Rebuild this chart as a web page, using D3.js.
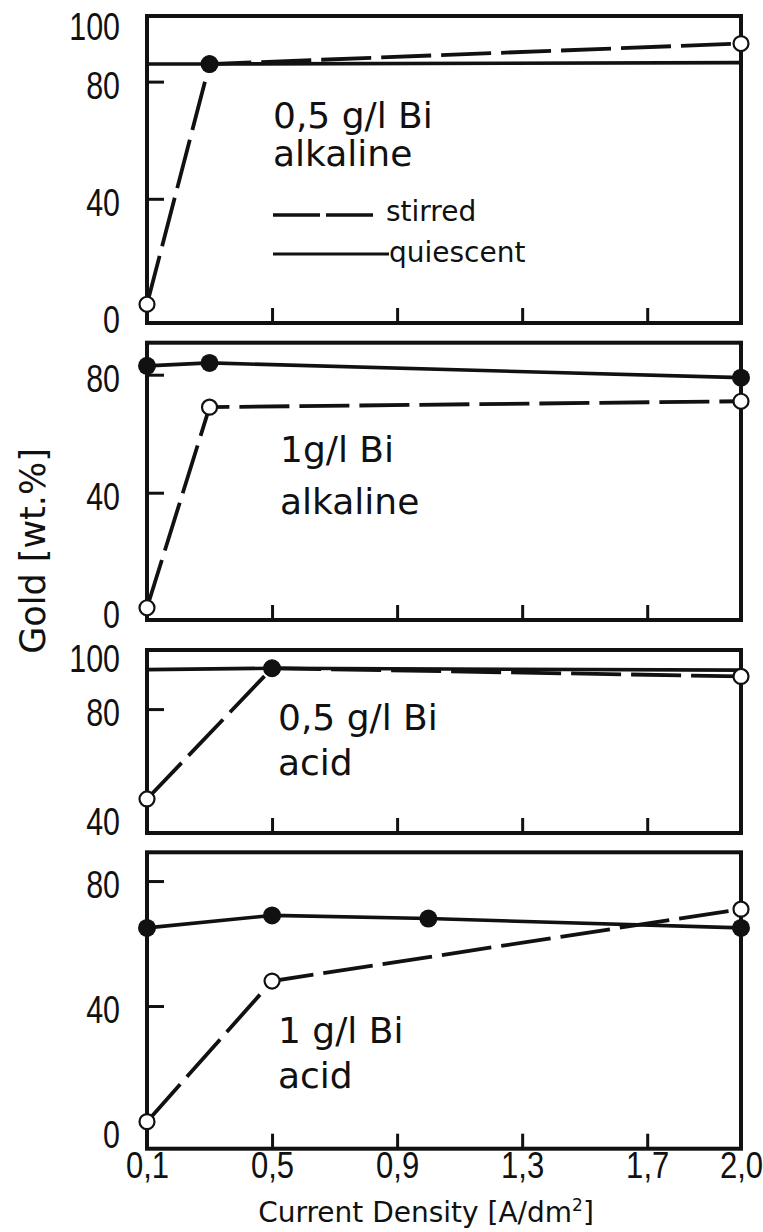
<!DOCTYPE html>
<html>
<head>
<meta charset="utf-8">
<script src="https://cdn.jsdelivr.net/npm/d3@7"></script>
<style>
  html, body { margin: 0; padding: 0; background: #ffffff; }
  svg { display: block; }
  text { fill: #111; }
</style>
</head>
<body>
<svg id="chart" width="763" height="1232"></svg>
<script>
// Current density (A/dm²): tick positions and their printed labels
const xTickValues = [0.1, 0.5, 0.9, 1.3, 1.7, 2.0];
const xTickLabels = ["0,1", "0,5", "0,9", "1,3", "1,7", "2,0"];
const xInnerTicks = [0.5, 0.9, 1.3, 1.7];

// 0,5 g/l Bi, alkaline bath — gold content (wt.%)
const alk05Density = [0.1, 0.3, 2.0];
const alk05Stirred = [4, 86, 93];
const alk05Quiescent = [86, 86, 86.5];
const alk05QuiescentMarked = [0.3];

// 1 g/l Bi, alkaline bath
const alk1Density = [0.1, 0.3, 2.0];
const alk1Stirred = [1, 69, 71];
const alk1Quiescent = [83, 84, 79];
const alk1QuiescentMarked = [0.1, 0.3, 2.0];

// 0,5 g/l Bi, acid bath
const acid05Density = [0.1, 0.5, 2.0];
const acid05Stirred = [47, 95, 92];
const acid05Quiescent = [94.5, 95, 94.3];
const acid05QuiescentMarked = [0.5];

// 1 g/l Bi, acid bath
const acid1StirredDensity = [0.1, 0.5, 2.0];
const acid1Stirred = [3, 48, 71];
const acid1QuiescentDensity = [0.1, 0.5, 1.0, 2.0];
const acid1Quiescent = [65, 69, 68, 65];
const acid1QuiescentMarked = [0.1, 0.5, 1.0, 2.0];

// Panel captions and y-axis ticks
const panelTitles = [
  ["0,5 g/l Bi", "alkaline"],
  ["1g/l Bi", "alkaline"],
  ["0,5 g/l Bi", "acid"],
  ["1 g/l Bi", "acid"]
];
const yTickLabelValues = [[100, 80, 40, 0], [80, 40, 0], [100, 80, 40], [80, 40, 0]];
const yTickMarkValues = [[80, 40], [80, 40], [80], [80, 40]];

const legendLabels = ["stirred", "quiescent"];
const yTitle = "Gold [wt.%]";

// ---------- layout ----------
const W = 763, H = 1232;
const plotLeft = 147, plotRight = 741;
const panelLayout = [
  { top: 16,    bottom: 323,    vTop: 102.4, vBottom: -2.4, titleX: 273, titleY: [128, 166] },
  { top: 342.7, bottom: 620,    vTop: 90.85, vBottom: -3.15, titleX: 280, titleY: [462, 514] },
  { top: 650,   bottom: 833,    vTop: 101.7, vBottom: 34.5, titleX: 278, titleY: [730, 775] },
  { top: 852.3, bottom: 1148.7, vTop: 89.2,  vBottom: -5.66, titleX: 278, titleY: [1043, 1088] }
];

const zip = (xs, ys) => xs.map((d, i) => [d, ys[i]]);
const panelSeries = [
  { stirred: zip(alk05Density, alk05Stirred), quiescent: zip(alk05Density, alk05Quiescent), marked: alk05QuiescentMarked },
  { stirred: zip(alk1Density, alk1Stirred), quiescent: zip(alk1Density, alk1Quiescent), marked: alk1QuiescentMarked },
  { stirred: zip(acid05Density, acid05Stirred), quiescent: zip(acid05Density, acid05Quiescent), marked: acid05QuiescentMarked },
  { stirred: zip(acid1StirredDensity, acid1Stirred), quiescent: zip(acid1QuiescentDensity, acid1Quiescent), marked: acid1QuiescentMarked }
];

const ink = "#111";
// numbers are set in a condensed cut: Liberation Sans squeezed horizontally
const numFont = "'Liberation Sans',Arial,sans-serif";
const numSqueeze = 0.8;
const xNumSqueeze = 0.84;
const textFont = "'DejaVu Sans','Liberation Sans',sans-serif";

const svg = d3.select("#chart");
svg.append("rect").attr("width", W).attr("height", H).attr("fill", "#fff");

const x = d3.scaleLinear().domain([0.1, 2.0]).range([plotLeft, plotRight]);

panelLayout.forEach((p, i) => {
  const y = d3.scaleLinear().domain([p.vBottom, p.vTop]).range([p.bottom, p.top]);
  const g = svg.append("g");
  const s = panelSeries[i];

  // frame
  g.append("rect")
    .attr("x", plotLeft).attr("y", p.top)
    .attr("width", plotRight - plotLeft).attr("height", p.bottom - p.top)
    .attr("fill", "none").attr("stroke", ink).attr("stroke-width", 4);

  // inward ticks on the bottom edge
  const bx = g.append("g").attr("transform", `translate(0,${p.bottom})`)
    .call(d3.axisBottom(x).tickValues(xInnerTicks).tickSizeInner(-15).tickSizeOuter(0).tickFormat(() => ""));
  bx.select(".domain").remove();
  bx.selectAll(".tick line").attr("stroke", ink).attr("stroke-width", 3);

  // inward ticks on the left edge
  const ly = g.append("g").attr("transform", `translate(${plotLeft},0)`)
    .call(d3.axisLeft(y).tickValues(yTickMarkValues[i]).tickSizeInner(-17).tickSizeOuter(0).tickFormat(() => ""));
  ly.select(".domain").remove();
  ly.selectAll(".tick line").attr("stroke", ink).attr("stroke-width", 3);

  // y tick labels
  const yl = g.append("g").attr("transform", `translate(${plotLeft},0)`)
    .call(d3.axisLeft(y).tickValues(yTickLabelValues[i]).tickSize(0).tickPadding(27).tickFormat(d3.format("d")));
  yl.select(".domain").remove();
  yl.selectAll(".tick text")
    .attr("font-family", numFont).attr("font-size", 38).attr("fill", ink)
    .attr("x", 0).attr("y", 0).attr("dy", "0.36em")
    .attr("transform", `translate(-27,3) scale(${numSqueeze},1)`);

  const line = d3.line().x(d => x(d[0])).y(d => y(d[1]));

  // stirred (dashed) and quiescent (solid)
  g.append("path").datum(s.stirred).attr("d", line)
    .attr("fill", "none").attr("stroke", ink).attr("stroke-width", 3.8)
    .attr("stroke-dasharray", "50,10").attr("stroke-linecap", "butt");
  g.append("path").datum(s.quiescent).attr("d", line)
    .attr("fill", "none").attr("stroke", ink).attr("stroke-width", 3.6);

  // open circles for stirred
  g.selectAll("circle.open").data(s.stirred).join("circle").attr("class", "open")
    .attr("cx", d => x(d[0])).attr("cy", d => y(d[1])).attr("r", 7.5)
    .attr("fill", "#fff").attr("stroke", ink).attr("stroke-width", 2.2);

  // filled dots for quiescent
  g.selectAll("circle.filled").data(s.quiescent.filter(d => s.marked.includes(d[0])))
    .join("circle").attr("class", "filled")
    .attr("cx", d => x(d[0])).attr("cy", d => y(d[1])).attr("r", 9)
    .attr("fill", ink);

  // caption
  panelTitles[i].forEach((t, k) => {
    g.append("text").attr("x", p.titleX).attr("y", p.titleY[k])
      .attr("font-family", textFont).attr("font-size", 36).text(t);
  });

  // legend inside the first panel
  if (i === 0) {
    g.append("line").attr("x1", 273).attr("x2", 379).attr("y1", 215).attr("y2", 215)
      .attr("stroke", ink).attr("stroke-width", 3.5).attr("stroke-dasharray", "47,6");
    g.append("text").attr("x", 386).attr("y", 221)
      .attr("font-family", textFont).attr("font-size", 28).text(legendLabels[0]);
    g.append("line").attr("x1", 273).attr("x2", 389).attr("y1", 254).attr("y2", 254)
      .attr("stroke", ink).attr("stroke-width", 3.2);
    g.append("text").attr("x", 389).attr("y", 262)
      .attr("font-family", textFont).attr("font-size", 28).text(legendLabels[1]);
  }
});

// x tick labels under the last panel
const last = panelLayout[panelLayout.length - 1];
const xl = svg.append("g").attr("transform", `translate(0,${last.bottom})`)
  .call(d3.axisBottom(x).tickValues(xTickValues).tickSize(0).tickPadding(3)
    .tickFormat((d, i) => xTickLabels[i]));
xl.select(".domain").remove();
xl.selectAll(".tick text").attr("font-family", numFont).attr("font-size", 37).attr("fill", ink)
  .attr("transform", `scale(${xNumSqueeze},1)`);

// axis titles
const xt = svg.append("text").attr("x", 426).attr("y", 1222).attr("text-anchor", "middle")
  .attr("font-family", textFont).attr("font-size", 28);
xt.append("tspan").text("Current Density [A/dm");
xt.append("tspan").attr("dy", -11).attr("font-size", 17).text("2");
xt.append("tspan").attr("dy", 11).text("]");

svg.append("text").attr("transform", "translate(45,551) rotate(-90)")
  .attr("text-anchor", "middle").attr("font-family", textFont).attr("font-size", 35)
  .text(yTitle);
</script>
</body>
</html>
